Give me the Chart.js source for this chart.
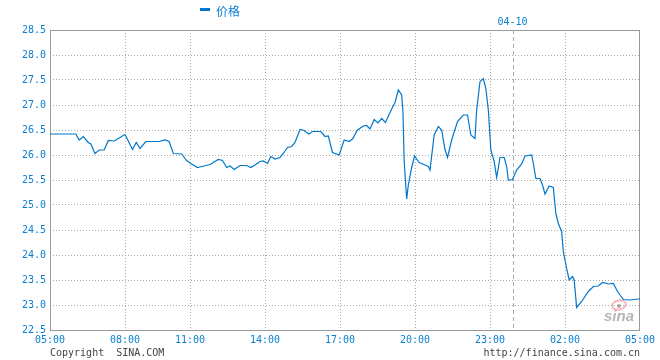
<!DOCTYPE html>
<html>
<head>
<meta charset="utf-8">
<script src="https://cdn.jsdelivr.net/npm/chart.js@4.4.1/dist/chart.umd.min.js"></script>
<style>
  html, body { margin: 0; padding: 0; background: #fff; }
</style>
</head>
<body>
<canvas id="chart" width="660" height="360"></canvas>
<script>
// trading minutes counted from 05:00
var tickMins = [0, 180, 336, 516, 696, 876, 1056, 1236, 1416];
var tickLabels = ["05:00", "08:00", "11:00", "14:00", "17:00", "20:00", "23:00", "02:00", "05:00"];
var dayBreak = 1110;
var dayLabel = "04-10";
var seriesName = "价格";

var mins = [0, 62, 70, 80, 92, 98, 108, 118, 130, 140, 154, 168, 180, 186, 198, 207, 216, 230, 262, 276,
  286, 296, 316, 328, 340, 354, 364, 384, 404, 414, 424, 432, 442, 456, 472, 482, 492, 504, 512, 522,
  530, 540, 552, 560, 570, 580, 588, 600, 610, 621, 630, 650, 660, 668, 678, 694, 706, 718, 726, 738,
  752, 760, 768, 778, 787, 796, 805, 816, 828, 836, 844, 847, 850, 856, 860, 868, 875, 886, 900, 908,
  912, 922, 932, 940, 948, 954, 964, 978, 992, 1002, 1010, 1020, 1024, 1032, 1040, 1046, 1052, 1058, 1066, 1072,
  1080, 1090, 1096, 1100, 1110, 1120, 1132, 1140, 1156, 1160, 1166, 1176, 1182, 1188, 1198, 1208, 1214, 1220, 1228, 1232,
  1240, 1246, 1254, 1258, 1264, 1276, 1292, 1304, 1316, 1326, 1340, 1352, 1362, 1376, 1392, 1412, 1416];

var prices = [26.42, 26.42, 26.30, 26.37, 26.25, 26.22, 26.03, 26.10, 26.10, 26.29, 26.28, 26.35, 26.41, 26.31, 26.11, 26.25, 26.13, 26.27, 26.27, 26.30,
  26.27, 26.03, 26.02, 25.89, 25.82, 25.75, 25.77, 25.81, 25.91, 25.89, 25.75, 25.78, 25.71, 25.79, 25.79, 25.75, 25.80, 25.87, 25.88, 25.83,
  25.97, 25.92, 25.95, 26.03, 26.15, 26.17, 26.25, 26.51, 26.49, 26.42, 26.47, 26.47, 26.37, 26.38, 26.05, 26.00, 26.30, 26.27, 26.32, 26.50,
  26.58, 26.59, 26.52, 26.71, 26.64, 26.73, 26.65, 26.85, 27.05, 27.30, 27.20, 26.88, 25.88, 25.12, 25.40, 25.75, 25.98, 25.85, 25.80, 25.77,
  25.70, 26.40, 26.57, 26.50, 26.11, 25.95, 26.30, 26.67, 26.80, 26.80, 26.40, 26.33, 26.90, 27.47, 27.53, 27.33, 26.90, 26.10, 25.87, 25.55,
  25.95, 25.95, 25.77, 25.50, 25.51, 25.70, 25.82, 25.98, 26.00, 25.83, 25.53, 25.53, 25.40, 25.22, 25.38, 25.35, 24.83, 24.63, 24.47, 24.07,
  23.73, 23.50, 23.57, 23.50, 22.95, 23.07, 23.27, 23.37, 23.38, 23.45, 23.42, 23.43, 23.27, 23.11, 23.10, 23.12, 23.12];

var blue = "#0a7fd2";
var lineBlue = "#0077cc";
var mono = "'DejaVu Sans Mono', monospace";

Chart.defaults.font.family = mono;
Chart.defaults.font.size = 10;

// hide the grid line that falls on the frame
function innerGrid(ctx) {
  var n = ctx.scale.ticks.length;
  return (ctx.index === 0 || ctx.index === n - 1) ? "rgba(0,0,0,0)" : "#aaa";
}

var decor = {
  id: "decor",
  beforeDatasetsDraw: function (chart) {
    var ctx = chart.ctx, a = chart.chartArea;
    ctx.save();
    // day break line
    var px = Math.round(chart.scales.x.getPixelForValue(dayBreak)) + 0.5;
    ctx.strokeStyle = "#aaa";
    ctx.lineWidth = 1;
    ctx.setLineDash([4, 3]);
    ctx.beginPath();
    ctx.moveTo(px, a.top);
    ctx.lineTo(px, a.bottom);
    ctx.stroke();
    ctx.setLineDash([]);

    // watermark
    ctx.strokeStyle = "rgba(240,120,130,0.55)";
    ctx.lineWidth = 2;
    ctx.beginPath();
    ctx.ellipse(619, 305, 7, 4.5, -0.2, 0, Math.PI * 2);
    ctx.stroke();
    ctx.fillStyle = "rgba(110,110,110,0.6)";
    ctx.beginPath();
    ctx.arc(619, 306, 2, 0, Math.PI * 2);
    ctx.fill();
    ctx.font = "italic bold 15px 'Liberation Sans', sans-serif";
    ctx.textAlign = "left";
    ctx.textBaseline = "alphabetic";
    ctx.fillStyle = "rgba(120,120,120,0.55)";
    ctx.fillText("sina", 604, 321);

    // frame
    ctx.strokeStyle = "#999";
    ctx.lineWidth = 1;
    ctx.strokeRect(a.left + 0.5, a.top + 0.5, a.right - a.left - 1, a.bottom - a.top);
    ctx.restore();
  },
  afterDraw: function (chart) {
    var ctx = chart.ctx, a = chart.chartArea;
    ctx.save();
    // legend
    ctx.fillStyle = lineBlue;
    ctx.fillRect(200, 8, 10, 3);
    ctx.font = "12px 'Noto Sans CJK SC', sans-serif";
    ctx.fillStyle = blue;
    ctx.textBaseline = "middle";
    ctx.textAlign = "left";
    ctx.fillText(chart.data.datasets[0].label, 216, 11);

    // date of the second day
    ctx.font = "10px " + mono;
    ctx.textAlign = "center";
    ctx.fillText(dayLabel, chart.scales.x.getPixelForValue(dayBreak), 22);

    // footer
    ctx.fillStyle = "#444";
    ctx.textAlign = "left";
    ctx.fillText("Copyright  SINA.COM", a.left, 353);
    ctx.textAlign = "right";
    ctx.fillText("http://finance.sina.com.cn", a.right, 353);
    ctx.restore();
  }
};

var points = mins.map(function (m, i) { return { x: m, y: prices[i] }; });

new Chart(document.getElementById("chart"), {
  type: "line",
  data: {
    datasets: [{
      label: seriesName,
      data: points,
      borderColor: lineBlue,
      borderWidth: 1.2,
      pointRadius: 0,
      tension: 0,
      fill: false
    }]
  },
  options: {
    responsive: false,
    animation: false,
    devicePixelRatio: 1,
    layout: { padding: { top: 30, right: 20, left: 0, bottom: 0 } },
    plugins: {
      legend: { display: false },
      tooltip: { enabled: false }
    },
    scales: {
      x: {
        type: "linear",
        min: 0,
        max: 1416,
        afterBuildTicks: function (s) {
          s.ticks = tickMins.map(function (v) { return { value: v }; });
        },
        afterFit: function (s) { s.height = 30; },
        ticks: {
          autoSkip: false,
          maxRotation: 0,
          padding: 4,
          color: blue,
          callback: function (v, i) { return tickLabels[i]; }
        },
        grid: { color: innerGrid, drawTicks: false },
        border: { display: false, dash: [1, 2] }
      },
      y: {
        min: 22.5,
        max: 28.5,
        afterFit: function (s) { s.width = 50; },
        ticks: {
          stepSize: 0.5,
          padding: 4,
          color: blue,
          callback: function (v) { return v.toFixed(1); }
        },
        grid: { color: innerGrid, drawTicks: false },
        border: { display: false, dash: [1, 2] }
      }
    }
  },
  plugins: [decor]
});
</script>
</body>
</html>
